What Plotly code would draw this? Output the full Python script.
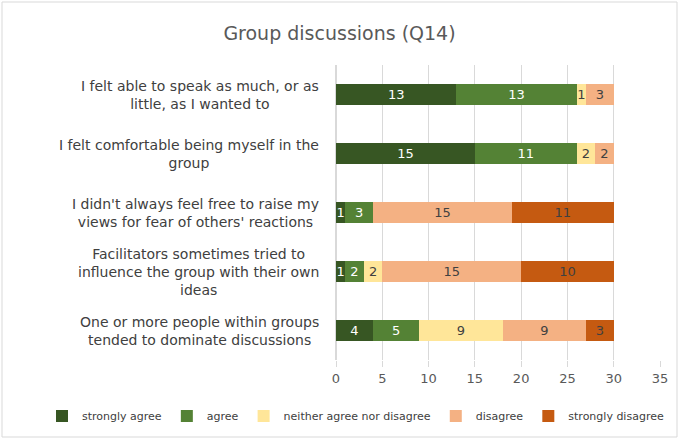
import plotly.graph_objects as go

questions = [
    "I felt able to speak as much, or as<br>little, as I wanted to",
    "I felt comfortable being myself in the<br>group",
    "I didn't always feel free to raise my<br>views for fear of others' reactions",
    "Facilitators sometimes tried to<br>influence the group with their own<br>ideas",
    "One or more people within groups<br>tended to dominate discussions",
]
series = ["strongly agree", "agree", "neither agree nor disagree", "disagree", "strongly disagree"]
strongly_agree = [13, 15, 1, 1, 4]
agree = [13, 11, 3, 2, 5]
neither = [1, 2, 0, 2, 9]
disagree = [3, 2, 15, 15, 9]
strongly_disagree = [0, 0, 11, 10, 3]
colors = ["#375623", "#548235", "#FFE699", "#F4B183", "#C55A11"]
text_colors = ["white", "white", "#404040", "#404040", "#404040"]

values = [strongly_agree, agree, neither, disagree, strongly_disagree]
cats = list(range(len(questions)))

fig = go.Figure()
for name, vals, col, tcol in zip(series, values, colors, text_colors):
    fig.add_trace(go.Bar(
        y=cats, x=vals, name=name, orientation="h",
        marker=dict(color=col, line=dict(width=0)),
        text=[str(v) if v else "" for v in vals],
        textposition="inside", insidetextanchor="middle", textangle=0,
        constraintext="none",
        textfont=dict(color=tcol, size=13, family="DejaVu Sans"),
        cliponaxis=False,
    ))

for i, q in enumerate(questions):
    fig.add_annotation(x=-0.045, xref="paper", y=i, yref="y", text=q,
                       showarrow=False, xanchor="right", align="center",
                       font=dict(size=14, color="#404040", family="DejaVu Sans"))

pw, ph = 324, 295
fig.add_shape(type="rect", xref="paper", yref="paper",
              x0=(2 - 336) / pw, x1=(677 - 336) / pw,
              y0=(360 - 437) / ph, y1=(360 - 2) / ph,
              line=dict(color="#D9D9D9", width=1), layer="below")

fig.update_layout(
    width=679, height=439,
    barmode="stack", bargap=0.63,
    margin=dict(l=336, r=19, t=65, b=79, autoexpand=False),
    paper_bgcolor="white", plot_bgcolor="white",
    uniformtext=dict(minsize=13, mode="show"),
    title=dict(text="Group discussions (Q14)", x=0.5, xref="container", xanchor="center",
               y=1 - 33 / 439, yref="container", yanchor="middle",
               font=dict(size=19, color="#595959", family="DejaVu Sans")),
    xaxis=dict(range=[0, 35], dtick=5, showgrid=True, gridcolor="#D9D9D9",
               zeroline=True, zerolinecolor="#D9D9D9", ticks="outside",
               tickcolor="#D9D9D9", ticklen=6, automargin=False,
               tickfont=dict(size=13, color="#595959", family="DejaVu Sans")),
    yaxis=dict(showticklabels=False, showgrid=False, zeroline=False, automargin=False,
               range=[len(questions) - 0.5, -0.5]),
    legend=dict(orientation="h", x=(42 - 336) / pw, xref="paper", xanchor="left",
                y=(360 - 416) / ph, yref="paper", yanchor="middle",
                font=dict(size=11, color="#404040", family="DejaVu Sans"),
                traceorder="normal", bgcolor="rgba(0,0,0,0)"),
    showlegend=True,
)

fig.write_html("out.html", config={"displayModeBar": False},
               post_script="document.body.style.margin='0';")
